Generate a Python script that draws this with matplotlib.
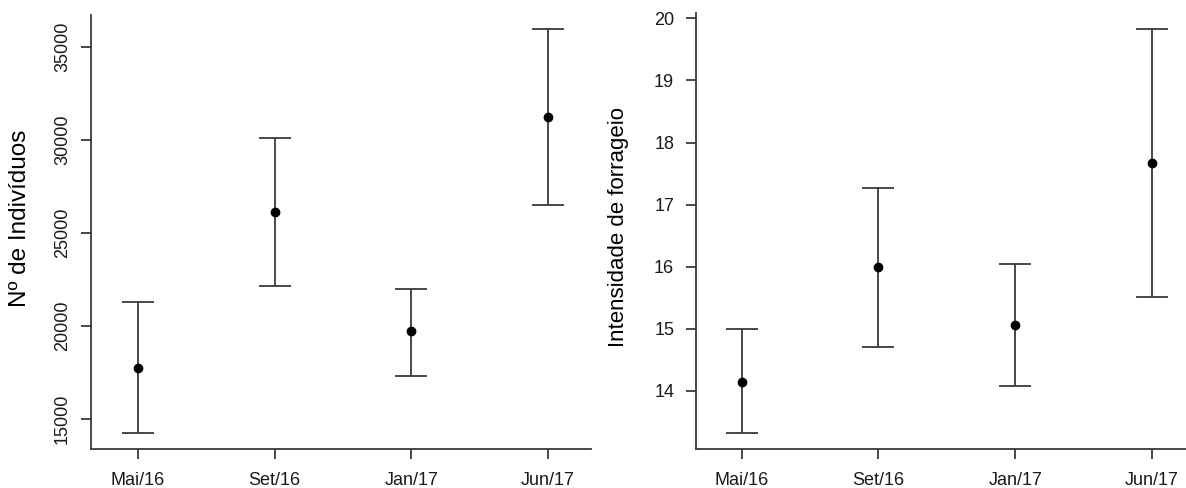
import matplotlib
matplotlib.use("Agg")
from matplotlib import pyplot as plt

periodos = ["Mai/16", "Set/16", "Jan/17", "Jun/17"]

# Nº de indivíduos
ind_media = [17756, 26120, 19711, 31240]
ind_inf = [14264, 22145, 17326, 26512]
ind_sup = [21301, 30112, 21984, 35967]

# Intensidade de forrageio
forr_media = [14.15, 16.00, 15.07, 17.67]
forr_inf = [13.33, 14.71, 14.08, 15.51]
forr_sup = [14.99, 17.27, 16.04, 19.83]

plt.rcParams["font.family"] = ["Liberation Sans", "DejaVu Sans"]
line_col = "#3a3a3a"

fig = plt.figure(figsize=(11.86, 4.88), dpi=100)
ax1 = fig.add_axes([91/1186, 1-449/488, 500/1186, 434/488])
ax2 = fig.add_axes([695.7/1186, 1-449/488, 499.3/1186, 436.3/488])


def draw_panel(ax, media, inf, sup):
    x = list(range(1, len(media)+1))
    yerr = [[m-l for m, l in zip(media, inf)], [u-m for m, u in zip(media, sup)]]
    ax.errorbar(x, media, yerr=yerr, fmt="o", color="black", markersize=6,
                ecolor=line_col, elinewidth=1.3, capsize=11.5, capthick=1.3)
    ax.set_xticks(x)
    ax.set_xticklabels(periodos)
    for side in ["top", "right"]:
        ax.spines[side].set_visible(False)
    for side in ["left", "bottom"]:
        ax.spines[side].set_color(line_col)
        ax.spines[side].set_linewidth(1.3)
    ax.tick_params(axis="both", colors=line_col, length=7.5, width=1.3, labelsize=13,
                   labelcolor="#1a1a1a")
    ax.tick_params(axis="x", pad=9)


draw_panel(ax1, ind_media, ind_inf, ind_sup)
ax1.set_xlim(0.656, 4.315)
ax1.set_ylim(13388, 36703)
ax1.set_yticks([15000, 20000, 25000, 30000, 35000])
for lab in ax1.get_yticklabels():
    lab.set_rotation(90)
    lab.set_verticalalignment("center")
ax1.tick_params(axis="y", pad=7)
ax1.set_ylabel("Nº de Indivíduos", fontsize=17.5)
ax1.yaxis.set_label_coords(-0.12, 0.531)

draw_panel(ax2, forr_media, forr_inf, forr_sup)
ax2.set_xlim(0.664, 4.315)
ax2.set_ylim(13.066, 20.09)
ax2.set_yticks([14, 15, 16, 17, 18, 19, 20])
ax2.tick_params(axis="y", pad=8)
ax2.set_ylabel("Intensidade de forrageio", fontsize=16)
ax2.yaxis.set_label_coords(-0.134, 0.509)

fig.savefig("out.png", dpi=100)
